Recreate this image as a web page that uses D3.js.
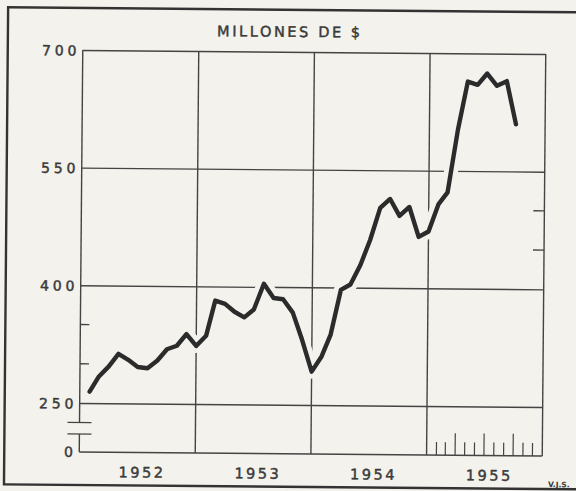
<!DOCTYPE html>
<html>
<head>
<meta charset="utf-8">
<script src="https://cdn.jsdelivr.net/npm/d3@7"></script>
<style>
  html, body { margin: 0; background: #f3f2ec; }
  svg { display: block; }
  .lbl { paint-order: stroke; stroke: #3a3a3a; stroke-width: 0.45px; }
</style>
</head>
<body>
<svg id="chart" width="576" height="491"></svg>
<script>
// Monthly values, millions of $
const months = [
  '1952-02', '1952-03', '1952-04', '1952-05', '1952-06', '1952-07', '1952-08', '1952-09', '1952-10', '1952-11', '1952-12',
  '1953-01', '1953-02', '1953-03', '1953-04', '1953-05', '1953-06', '1953-07', '1953-08', '1953-09', '1953-10', '1953-11', '1953-12',
  '1954-01', '1954-02', '1954-03', '1954-04', '1954-05', '1954-06', '1954-07', '1954-08', '1954-09', '1954-10', '1954-11', '1954-12',
  '1955-01', '1955-02', '1955-03', '1955-04', '1955-05', '1955-06', '1955-07', '1955-08', '1955-09', '1955-10'
];
const values = [
  264.5, 284, 297, 313, 305.5, 296.5, 295, 305, 319.5, 324, 339,
  324, 337, 382, 378, 368, 361, 371, 404, 386, 384.5, 367.5, 333,
  292.5, 312, 340, 397, 404, 429, 461, 502, 513.5, 492, 503.5, 465.5,
  472.5, 507.5, 522.5, 602.5, 664, 660, 674.5, 659, 665, 610
];
const yTicks = [250, 400, 550, 700];
const minorLeft = [300, 350];
const minorRight = [450, 500];
const years = ['1952', '1953', '1954', '1955'];
const title = 'MILLONES DE $';

const bg = '#f3f2ec';
const ink = '#333';
const textInk = '#3a3a3a';
const font = "'DejaVu Sans', sans-serif";

const x0 = 81, x1 = 544;
const parse = d3.timeParse('%Y-%m');

const xScale = d3.scaleTime()
  .domain([new Date(1952, 0, 1), new Date(1956, 0, 1)])
  .range([x0, x1]);

const yScale = d3.scaleLinear()
  .domain([250, 700])
  .range([405, 52]);

const yTop = yScale(700);
const y250 = yScale(250);
const zeroY = y250 + 49;       // broken axis: 0 sits below the break
const break1 = y250 + 19.5, break2 = y250 + 31;

const data = months.map((m, i) => ({ date: parse(m), value: values[i] }));

const svg = d3.select('#chart');
svg.append('rect').attr('width', 576).attr('height', 491).attr('fill', bg);

// whole sheet is scanned slightly askew
const g = svg.append('g').attr('transform', 'rotate(0.5, 312.5, 253)');

// outer frame
g.append('rect')
  .attr('x', 6).attr('y', 10)
  .attr('width', 610).attr('height', 477)
  .attr('fill', 'none')
  .attr('stroke', ink)
  .attr('stroke-width', 2.4);

// title
g.append('text')
  .attr('class', 'lbl')
  .attr('x', 288).attr('y', 37)
  .attr('text-anchor', 'middle')
  .attr('font-family', font)
  .attr('font-size', 14.5)
  .attr('letter-spacing', 2.6)
  .attr('fill', textInk)
  .text(title);

const grid = g.append('g')
  .attr('stroke', '#444')
  .attr('stroke-width', 1.4)
  .attr('fill', 'none');

// horizontal grid + labels via axis
const yAxis = g.append('g')
  .attr('transform', `translate(${x0},0)`)
  .call(d3.axisLeft(yScale)
    .tickValues(yTicks)
    .tickSize(-(x1 - x0))
    .tickPadding(2.5));
yAxis.select('.domain').remove();
yAxis.selectAll('.tick line').attr('stroke', '#444').attr('stroke-width', 1.4);
yAxis.selectAll('.tick text')
  .attr('class', 'lbl')
  .attr('font-family', font)
  .attr('font-size', 14)
  .attr('letter-spacing', 3.8)
  .attr('fill', textInk)
  .attr('dy', '0.36em');

// zero baseline and its label
grid.append('line')
  .attr('x1', x0).attr('x2', x1)
  .attr('y1', zeroY).attr('y2', zeroY);
g.append('text')
  .attr('class', 'lbl')
  .attr('x', x0 - 2.5).attr('y', zeroY)
  .attr('dy', '0.36em')
  .attr('text-anchor', 'end')
  .attr('font-family', font)
  .attr('font-size', 14)
  .attr('letter-spacing', 3.8)
  .attr('fill', textInk)
  .text('0');

// left axis with break
grid.append('line').attr('x1', x0).attr('x2', x0).attr('y1', yTop).attr('y2', break1);
grid.append('line').attr('x1', x0).attr('x2', x0).attr('y1', break2).attr('y2', zeroY);
[break1, break2].forEach((b) => {
  grid.append('line')
    .attr('x1', x0 - 12).attr('x2', x0 + 12)
    .attr('y1', b).attr('y2', b);
});

// year boundaries and right edge
const yearStarts = years.map((y) => new Date(+y, 0, 1));
grid.selectAll('line.year')
  .data(yearStarts.slice(1).concat([new Date(1956, 0, 1)]))
  .join('line')
  .attr('class', 'year')
  .attr('x1', (d) => xScale(d)).attr('x2', (d) => xScale(d))
  .attr('y1', yTop).attr('y2', zeroY);

// minor ticks on the sides
grid.selectAll('line.ml')
  .data(minorLeft)
  .join('line')
  .attr('class', 'ml')
  .attr('x1', x0).attr('x2', x0 + 9)
  .attr('y1', (d) => yScale(d)).attr('y2', (d) => yScale(d));
grid.selectAll('line.mr')
  .data(minorRight)
  .join('line')
  .attr('class', 'mr')
  .attr('x1', x1 - 11).attr('x2', x1)
  .attr('y1', (d) => yScale(d)).attr('y2', (d) => yScale(d));

// month ticks in the last year
const monthTicks = d3.timeMonth.range(new Date(1955, 1, 1), new Date(1956, 0, 1));
grid.selectAll('line.mt')
  .data(monthTicks)
  .join('line')
  .attr('class', 'mt')
  .attr('stroke-width', 1.2)
  .attr('x1', (d) => xScale(d)).attr('x2', (d) => xScale(d))
  .attr('y1', zeroY)
  .attr('y2', (d) => zeroY - (d.getMonth() % 3 === 0 ? 22 : 13));

// year labels, centred in each year
g.selectAll('text.yr')
  .data(years)
  .join('text')
  .attr('class', 'yr lbl')
  .attr('x', (d) => (xScale(new Date(+d, 0, 1)) + xScale(new Date(+d + 1, 0, 1))) / 2 + 5)
  .attr('y', 479)
  .attr('text-anchor', 'middle')
  .attr('font-family', font)
  .attr('font-size', 14.5)
  .attr('letter-spacing', 2.5)
  .attr('fill', textInk)
  .text((d) => d);

// signature
g.append('text')
  .attr('x', 550).attr('y', 485)
  .attr('font-family', font)
  .attr('font-size', 7.5)
  .attr('font-weight', 'bold')
  .attr('fill', textInk)
  .text('V.J.S.');

// the series, with a paper-coloured halo that breaks the grid around it
const line = d3.line()
  .x((d) => xScale(d.date))
  .y((d) => yScale(d.value));

g.append('path')
  .datum(data)
  .attr('fill', 'none')
  .attr('stroke', bg)
  .attr('stroke-width', 14)
  .attr('stroke-linejoin', 'round')
  .attr('d', line);

g.append('path')
  .datum(data)
  .attr('fill', 'none')
  .attr('stroke', '#2b2b2b')
  .attr('stroke-width', 4.4)
  .attr('stroke-linejoin', 'round')
  .attr('stroke-linecap', 'round')
  .attr('d', line);
</script>
</body>
</html>
